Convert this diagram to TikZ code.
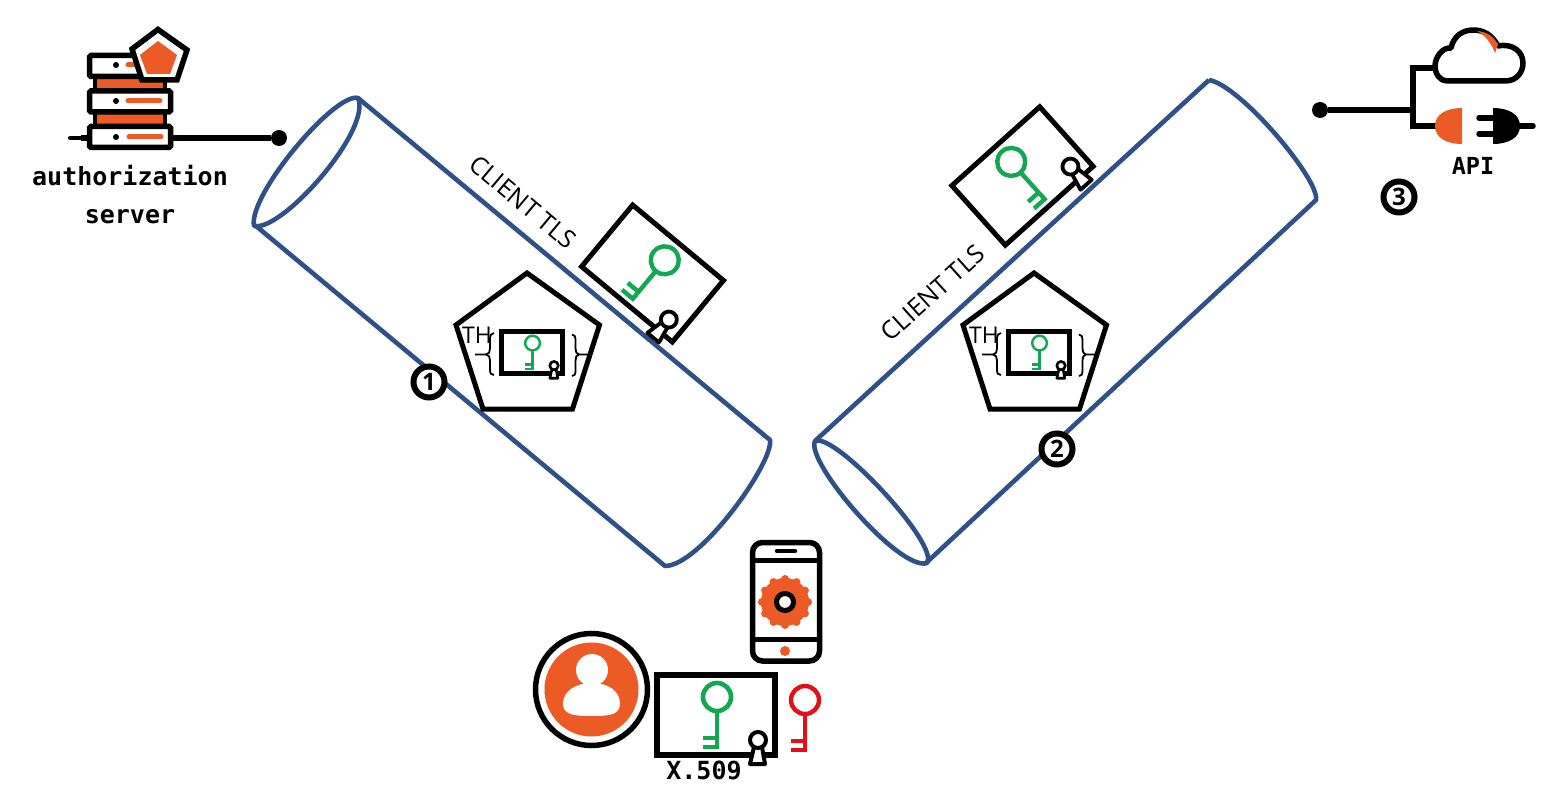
\documentclass[tikz,border=0pt]{standalone}
\usepackage{fontspec}
\setmainfont{Open Sans}
\newfontfamily\monof{DejaVu Sans Mono}
\definecolor{tubeblue}{HTML}{2F5186}
\definecolor{accent}{HTML}{EC5A26}
\definecolor{keygreen}{HTML}{12A853}
\definecolor{keyred}{HTML}{E3101C}
\tikzset{
  tube/.style={draw=tubeblue,line width=4.6pt,line join=round},
  ink/.style={draw=black,line width=5.5pt,line join=miter},
  wire/.style={draw=black,line width=5.5pt},
  penta/.style={draw=black,line width=5pt,fill=white,line join=miter},
  badge/.style={circle,draw=black,line width=6pt,fill=white,minimum size=31pt,inner sep=0pt,font=\fontsize{24}{26}\selectfont\bfseries},
  dotend/.style={circle,fill=black,minimum size=16pt,inner sep=0pt},
  mono/.style={inner sep=0pt,anchor=base,font=\monof\bfseries\fontsize{25}{28}\selectfont},
  tls/.style={inner sep=0pt,font=\fontsize{25}{30}\selectfont},
  thin brace/.style={draw=black,line width=1.8pt},
}
% x, y, rotation, scale, frame width, key width, rosette width
\newcommand{\certpic}[7]{%
  \begin{scope}[shift={(#1,#2)},rotate=#3,scale=#4]
    \draw[line width=#5pt,fill=white] (-59,-40) rectangle (59,40);
    \draw[keygreen,line width=#6pt] (1,-18) circle (14);
    \draw[keygreen,line width=#6pt,line join=miter] (1,-4) -- (1,32) -- (-13,32) (1,23) -- (-13,23);
    \draw[black,line width=#7pt,fill=white,line join=round] (38,32) -- (34,49) -- (49,49) -- (46,32) -- cycle;
    \draw[black,line width=#7pt,fill=white] (42,25) circle (8);
  \end{scope}}
\newcommand{\thpic}[2]{%
  \begin{scope}[shift={(#1,#2)}]
    \draw[penta] (0,-79.5) -- (72.5,-27.5) -- (45.5,56.5) -- (-44,56.5) -- (-71,-27.5) -- cycle;
    \certpic{5}{0}{0}{0.525}{5}{2.4}{2.6}
    \node[inner sep=0pt,font=\fontsize{23}{26}\selectfont] at (-50,-17.5) {TH};
    \draw[thin brace] (-33,-19.5) .. controls (-36,-19.5) and (-37,-17) .. (-37,-13) -- (-37,-4) .. controls (-37,-1) and (-38,2) .. (-41,2) -- (-52,2)
      (-41,2) .. controls (-38,2) and (-37,5) .. (-37,8) -- (-37,17) .. controls (-37,21) and (-36,22.5) .. (-33,22.5);
    \draw[thin brace] (45,-18) .. controls (47.5,-18) and (48.5,-16) .. (48.5,-12) -- (48.5,-4) .. controls (48.5,-1) and (49.5,2) .. (52,2) -- (64,2)
      (52,2) .. controls (49.5,2) and (48.5,5) .. (48.5,8) -- (48.5,18) .. controls (48.5,22) and (47.5,23.5) .. (45,23.5);
  \end{scope}}
\begin{document}
\begin{tikzpicture}[x=1pt,y=-1pt]
\useasboundingbox[fill=white] (0,0) rectangle (1559,810);

% tube 1
\draw[tube] (358,98) -- (770,440) .. controls (774,462) and (700,566) .. (665,566) -- (256,226);
\draw[tube] (358,98) .. controls (335,92) and (248,195) .. (254,226) .. controls (282,232) and (372,130) .. (358,98) -- cycle;
% tube 2
\draw[tube] (1209,80) .. controls (1240,85) and (1320,180) .. (1316,200) -- (926,563);
\draw[tube] (1209,80) -- (815,441);
\draw[tube] (815,441) .. controls (805,462) and (900,572) .. (927,563) .. controls (940,545) and (835,432) .. (815,441) -- cycle;

% tube labels
\node[tls,rotate=-40] (tlsa) at (523,202) {CLIENT TLS};
\node[tls,rotate=42] (tlsb) at (933,293) {CLIENT TLS};

% tilted certificates
\certpic{652.5}{273.5}{-39.7}{1}{5}{4.4}{3.8}
\certpic{1022.5}{176}{41.9}{1}{5}{4.4}{3.8}

% pentagons
\thpic{527}{352.5}
\thpic{1034}{352.5}

% step badges
\node[badge] (one) at (429,382) {1};
\node[badge] (two) at (1057,449) {2};
\node[badge] (three) at (1399,197) {3};

% authorization server
\fill[accent] (97,76) rectangle (163,90) (97,112) rectangle (163,126);
\draw[line width=4pt] (95,76) -- (95,90) (165,76) -- (165,90) (95,112) -- (95,126) (165,112) -- (165,126);
\foreach \yy in {55.5,91,126.5}{
  \draw[ink,fill=white,rounded corners=1.5pt] (89.5,\yy) rectangle (170.5,\yy+21);
}
\foreach \yy in {65,101,137}{ \fill (116,\yy) circle (3); }
\draw[accent,line width=5pt,line cap=round] (128,65) -- (140,65) (128,101) -- (160,101) (129,137) -- (161,137);
\draw[line width=5.5pt,fill=white,line join=miter] (158,29.5) -- (187,50) -- (177,80) -- (142,80) -- (132,49) -- cycle;
\fill[accent] (158,41) -- (177,55) -- (170,74) -- (147,74) -- (140,55) -- cycle;
\coordinate (srvright) at (173,138);
\coordinate (srvleft) at (87,138);
\node[dotend] (authdot) at (279,138) {};
\draw[wire] (srvright) -- (authdot);
\draw[line width=6pt] (srvleft) -- ++(-6,0);
\draw[line width=4pt,line cap=round] (srvleft) ++(-4,0) -- ++(-13,0);
\node[mono] (authlabel) at (130,185.5) {authorization};
\node[mono] (authlabelb) at (130,223.5) {server};

% API group
\draw[black,line width=5.5pt,fill=white,line join=round] (1447,81) -- (1505,81)
  .. controls (1517,81) and (1523,72) .. (1523,63)
  .. controls (1523,52) and (1513,43) .. (1498,46)
  .. controls (1492,35) and (1484,30) .. (1473,30)
  .. controls (1461,30) and (1453,38) .. (1451,48)
  .. controls (1442,47) and (1435,58) .. (1435,66)
  .. controls (1435,74) and (1440,81) .. (1447,81) -- cycle;
\fill[accent] (1477,31) .. controls (1489,32) and (1494,38) .. (1498,44) -- (1495,53) .. controls (1491,43) and (1486,36) .. (1477,31) -- cycle;
\node[dotend] (apidot) at (1320,110) {};
\coordinate (bus) at (1413,110);
\coordinate (buscloud) at (1436,68);
\coordinate (busplug) at (1438,126);
\draw[wire] (apidot) -- (bus);
\draw[wire,line join=miter] (buscloud) -| (bus) |- (busplug);
\fill[accent] (1462,108) .. controls (1447,108) and (1435,114) .. (1435,126) .. controls (1435,138) and (1447,144) .. (1462,144) -- cycle;
\fill[black] (1493,108) .. controls (1508,108) and (1520,114) .. (1520,126) .. controls (1520,138) and (1508,144) .. (1493,144) -- cycle;
\draw[line width=5.5pt,line cap=round] (1479,118) -- (1495,118) (1479,134) -- (1495,134) (1516,126) -- (1533,126);
\node[mono,font=\monof\bfseries\fontsize{23.5}{26}\selectfont] (apilabel) at (1473,175) {API};

% phone
\draw[ink,rounded corners=10pt] (752.5,542.5) rectangle (819.5,661);
\draw[line width=5pt] (752,560.5) -- (820,560.5) (752,639) -- (820,639);
\draw[line width=4.5pt,line cap=round] (777,551) -- (795,551);
\fill[accent] (785,602) circle (24);
\foreach \aa in {0,30,...,330}{ \fill[accent] (785,602) ++(\aa:23) circle (4); }
\draw[black,line width=5pt,fill=white] (785,602) circle (8.5);
\fill[accent] (785,651) circle (5);

% user
\draw[line width=5.5pt] (591.5,689.5) circle (56);
\fill[accent] (591.5,689.5) circle (47);
\fill[white] (592,670) circle (16);
\fill[white] (563,704) .. controls (563,690) and (577,683) .. (592,683) .. controls (607,683) and (620,690) .. (620,704) .. controls (620,716) and (605,716) .. (592,716) .. controls (578,716) and (563,716) .. (563,704) -- cycle;

% client certificate and private key
\certpic{716}{715}{0}{1}{5.5}{4.6}{4}
\node[mono] (x509) at (704,779.5) {X.509};
\draw[keyred,line width=4.4pt] (805,700) circle (14);
\draw[keyred,line width=4.4pt,line join=miter] (805,714) -- (805,750) -- (791,750) (805,741) -- (791,741);
\end{tikzpicture}
\end{document}
